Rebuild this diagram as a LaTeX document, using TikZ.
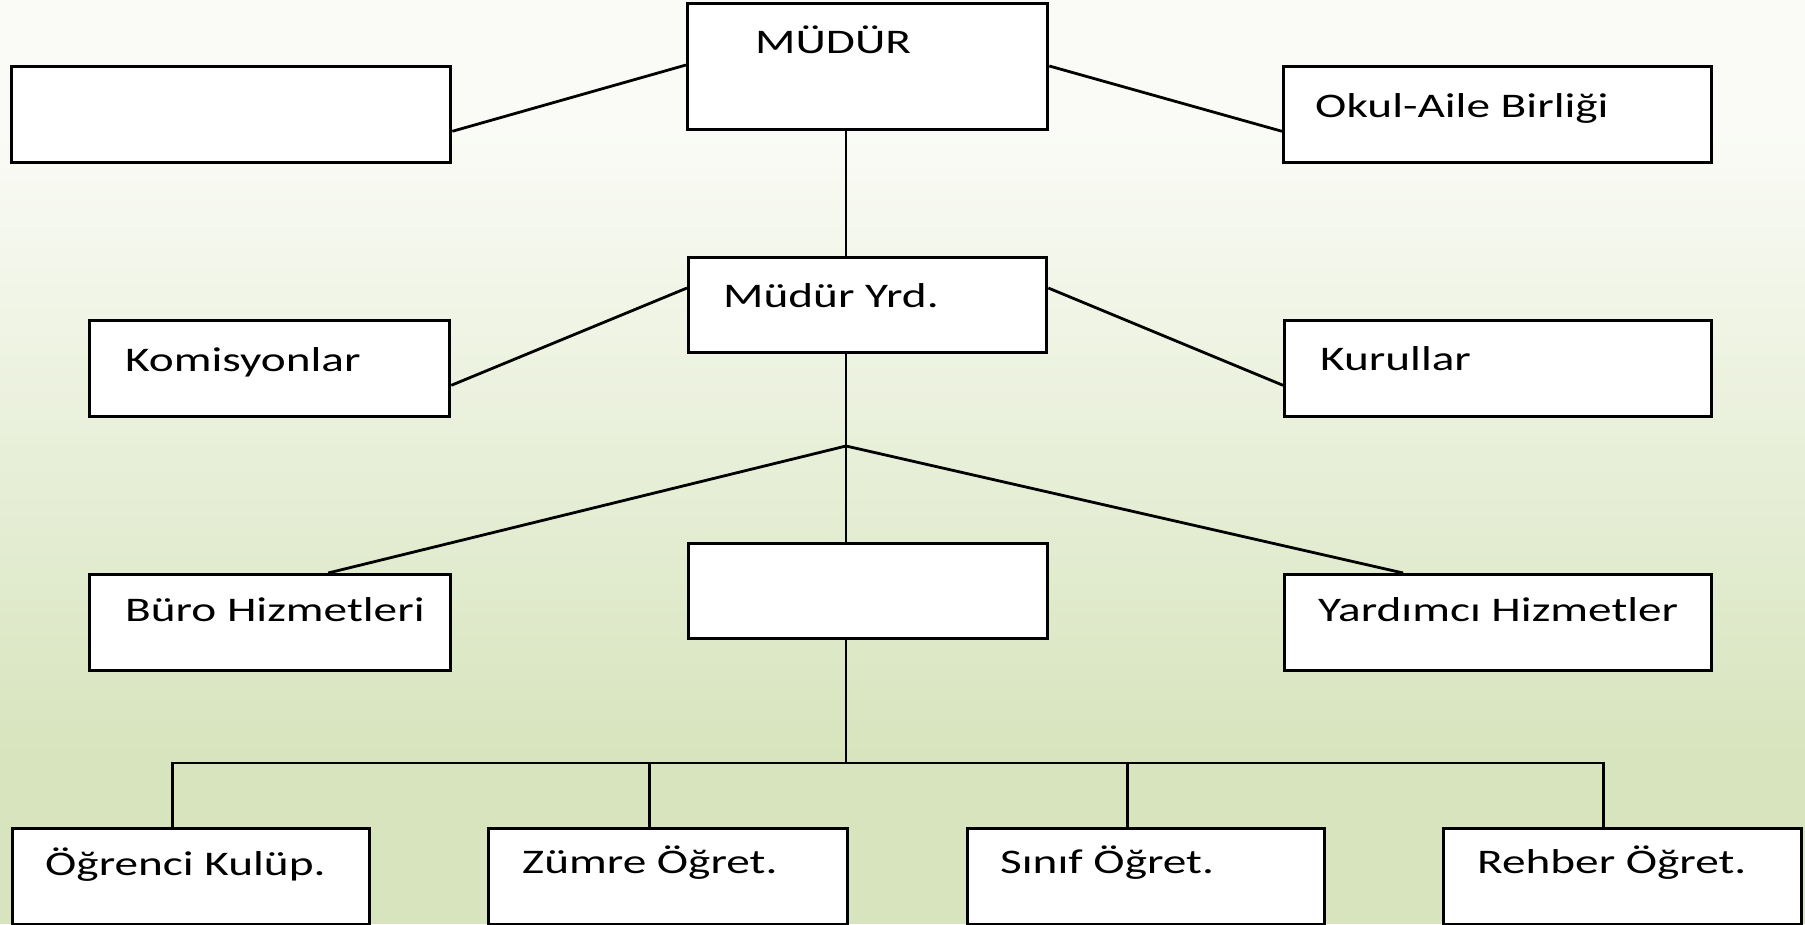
\documentclass[tikz,border=0pt]{standalone}
\usepackage{fontspec}
\setmainfont{Carlito}[FakeStretch=1.37]
\definecolor{bgtop}{HTML}{FAFBF6}
\definecolor{bgbot}{HTML}{D7E4BD}
\begin{document}
\begin{tikzpicture}[x=1pt,y=-1pt,
  box/.style={draw=black,line width=3.3pt,fill=white,rectangle,inner sep=0pt,anchor=north west},
  conn/.style={draw=black,line width=2.8pt},
  lbl/.style={anchor=base west,inner sep=0pt,font=\fontsize{34.5}{40}\selectfont}]
\useasboundingbox (0,0) rectangle (1805,924);
% background
\fill[bgtop] (0,0) rectangle (1805,131);
\shade[top color=bgtop,bottom color=bgbot] (0,130) rectangle (1805,761);
\fill[bgbot] (0,760) rectangle (1805,924);
% boxes
\node[box,minimum width=360pt,minimum height=126pt] (mudur) at (686,2) {};
\node[box,minimum width=439pt,minimum height=96pt] (bos1) at (10,65) {};
\node[box,minimum width=428pt,minimum height=96pt] (okul) at (1282,65) {};
\node[box,minimum width=358pt,minimum height=95pt] (yrd) at (687,256) {};
\node[box,minimum width=360pt,minimum height=96pt] (kom) at (88,319) {};
\node[box,minimum width=427pt,minimum height=96pt] (kur) at (1283,319) {};
\node[box,minimum width=361pt,minimum height=96pt] (buro) at (88,573) {};
\node[box,minimum width=359pt,minimum height=95pt] (mid) at (687,542) {};
\node[box,minimum width=427pt,minimum height=96pt] (yard) at (1283,573) {};
\node[box,minimum width=357pt,minimum height=96pt] (ogr) at (11,827) {};
\node[box,minimum width=359pt,minimum height=96pt] (zum) at (487,827) {};
\node[box,minimum width=357pt,minimum height=96pt] (sin) at (966,827) {};
\node[box,minimum width=358pt,minimum height=96pt] (reh) at (1442,827) {};
% junction points
\coordinate (j) at (846,446);
\coordinate (bus) at (846,763);
% connectors
\draw[conn] ([yshift=33pt]bos1.south east) -- ([yshift=-63pt]mudur.north west);
\draw[conn] ([yshift=-64pt]mudur.north east) -- ([yshift=33pt]okul.south west);
\draw[conn] (mudur.south -| j) -- (yrd.north -| j);
\draw[conn] ([yshift=33pt]kom.south east) -- ([yshift=-32pt]yrd.north west);
\draw[conn] ([yshift=-32pt]yrd.north east) -- ([yshift=33pt]kur.south west);
\draw[conn] (yrd.south -| j) -- (mid.north -| j);
\draw[conn] ([xshift=58pt]buro.north) -- (j) -- ([xshift=-95pt]yard.north);
\draw[conn] (mid.south -| j) -- (bus);
\draw[conn] ([xshift=-19pt]ogr.north) |- (bus) -| ([xshift=-19pt]reh.north);
\draw[conn] ([xshift=-19pt]zum.north) -- ([xshift=-19pt]zum.north |- bus);
\draw[conn] ([xshift=-19pt]sin.north) -- ([xshift=-19pt]sin.north |- bus);
% labels
\node[lbl] (tmudur) at (755,53) {MÜDÜR};
\node[lbl] (tokul) at (1315,117) {Okul-Aile Birliği};
\node[lbl] (tyrd) at (723,307) {Müdür Yrd.};
\node[lbl] (tkom) at (125,371) {Komisyonlar};
\node[lbl] (tkur) at (1320,370) {Kurullar};
\node[lbl] (tburo) at (125,621) {Büro Hizmetleri};
\node[lbl] (tyard) at (1318,621) {Yardımcı Hizmetler};
\node[lbl] (togr) at (45,875) {Öğrenci Kulüp.};
\node[lbl] (tzum) at (522,873) {Zümre Öğret.};
\node[lbl] (tsin) at (1000,873) {Sınıf Öğret.};
\node[lbl] (treh) at (1477,873) {Rehber Öğret.};
\end{tikzpicture}
\end{document}
